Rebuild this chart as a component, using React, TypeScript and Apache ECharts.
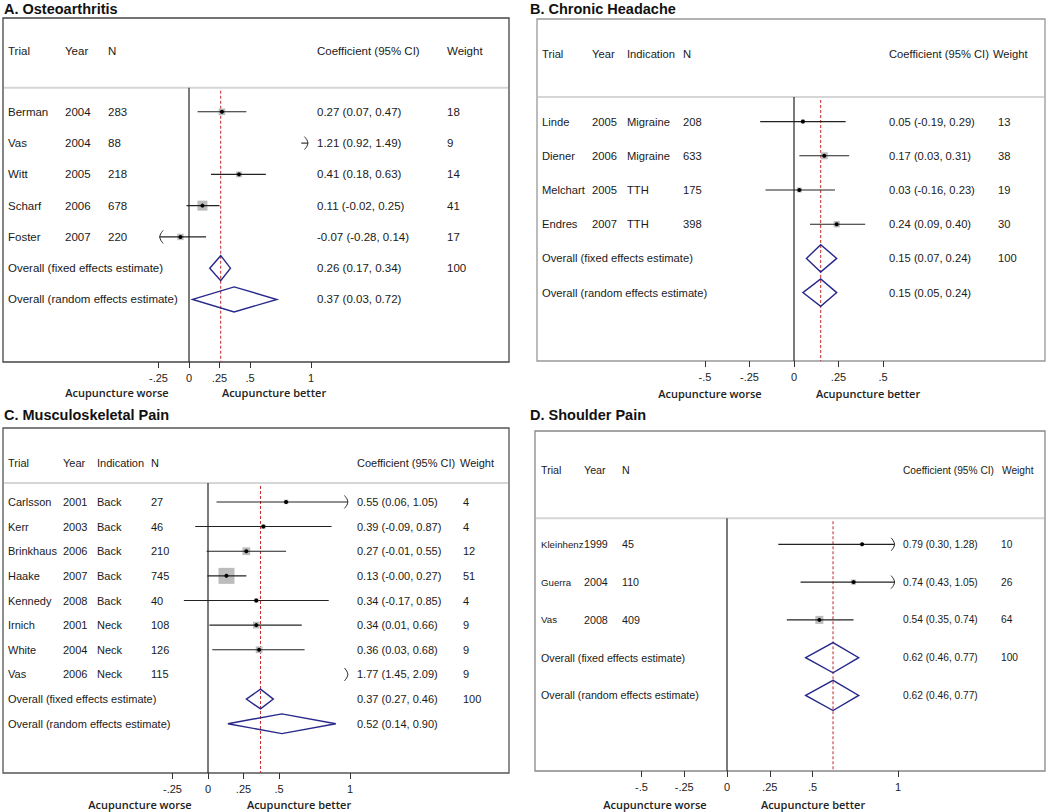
import React, { useEffect, useRef } from "react";
import * as echarts from "echarts";

// ---------- A. Osteoarthritis ----------
const oaTitle = "A. Osteoarthritis";
const oaTrials = ["Berman", "Vas", "Witt", "Scharf", "Foster"];
const oaYears = ["2004", "2004", "2005", "2006", "2007"];
const oaN = ["283", "88", "218", "678", "220"];
const oaEst = [0.27, 1.21, 0.41, 0.11, -0.07];
const oaLo = [0.07, 0.92, 0.18, -0.02, -0.28];
const oaHi = [0.47, 1.49, 0.63, 0.25, 0.14];
const oaWeight = [18, 9, 14, 41, 17];
const oaFixed = [0.26, 0.17, 0.34];
const oaRandom = [0.37, 0.03, 0.72];
const oaTicks = [-0.25, 0, 0.25, 0.5, 1];

// ---------- B. Chronic Headache ----------
const chTitle = "B. Chronic Headache";
const chTrials = ["Linde", "Diener", "Melchart", "Endres"];
const chYears = ["2005", "2006", "2005", "2007"];
const chIndications = ["Migraine", "Migraine", "TTH", "TTH"];
const chN = ["208", "633", "175", "398"];
const chEst = [0.05, 0.17, 0.03, 0.24];
const chLo = [-0.19, 0.03, -0.16, 0.09];
const chHi = [0.29, 0.31, 0.23, 0.4];
const chWeight = [13, 38, 19, 30];
const chFixed = [0.15, 0.07, 0.24];
const chRandom = [0.15, 0.05, 0.24];
const chTicks = [-0.5, -0.25, 0, 0.25, 0.5];

// ---------- C. Musculoskeletal Pain ----------
const mpTitle = "C. Musculoskeletal Pain";
const mpTrials = ["Carlsson", "Kerr", "Brinkhaus", "Haake", "Kennedy", "Irnich", "White", "Vas"];
const mpYears = ["2001", "2003", "2006", "2007", "2008", "2001", "2004", "2006"];
const mpIndications = ["Back", "Back", "Back", "Back", "Back", "Neck", "Neck", "Neck"];
const mpN = ["27", "46", "210", "745", "40", "108", "126", "115"];
const mpEst = [0.55, 0.39, 0.27, 0.13, 0.34, 0.34, 0.36, 1.77];
const mpLo = [0.06, -0.09, -0.01, -0.004, -0.17, 0.01, 0.03, 1.45];
const mpHi = [1.05, 0.87, 0.55, 0.27, 0.85, 0.66, 0.68, 2.09];
const mpWeight = [4, 4, 12, 51, 4, 9, 9, 9];
const mpFixed = [0.37, 0.27, 0.46];
const mpRandom = [0.52, 0.14, 0.9];
const mpTicks = [-0.25, 0, 0.25, 0.5, 1];

// ---------- D. Shoulder Pain ----------
const spTitle = "D. Shoulder Pain";
const spTrials = ["Kleinhenz", "Guerra", "Vas"];
const spYears = ["1999", "2004", "2008"];
const spN = ["45", "110", "409"];
const spEst = [0.79, 0.74, 0.54];
const spLo = [0.3, 0.43, 0.35];
const spHi = [1.28, 1.05, 0.74];
const spWeight = [10, 26, 64];
const spFixed = [0.62, 0.46, 0.77];
const spRandom = [0.62, 0.46, 0.77];
const spTicks = [-0.5, -0.25, 0, 0.25, 0.5, 1];

const FONT = "'Liberation Sans', Arial, Helvetica, sans-serif";
const NOTE_FONT = "'Open Sans', 'Liberation Sans', Arial, sans-serif";

type Layout = {
  left: number; top: number; width: number; height: number;
  xMin: number; xMax: number; yMin: number; yMax: number;
  headerRow: number; sepRow: number;
  cTrial: number; cYear: number; cInd: number; cN: number; cCoef: number; cWeight: number; cWeightH: number;
  font: number; trialFont: number; coefFont: number; clipLo: number; clipHi: number; sqK: number; border: string;
  titleX: number; titleY: number; worseX: number; betterX: number; noteY: number;
};

const panels = [
  {
    title: oaTitle, trials: oaTrials, years: oaYears, inds: null as string[] | null, ns: oaN,
    est: oaEst, lo: oaLo, hi: oaHi, weight: oaWeight, fixed: oaFixed, random: oaRandom, ticks: oaTicks,
    L: {
      left: 3, top: 18, width: 506, height: 344, xMin: -1.5246, xMax: 2.623, yMin: -3, yMax: 8,
      headerRow: -1.95, sepRow: -0.77, cTrial: 8, cYear: 65, cInd: 0, cN: 108, cCoef: 317, cWeight: 447, cWeightH: 447,
      font: 11.5, trialFont: 11.5, coefFont: 11.5, clipLo: -0.24, clipHi: 0.975, sqK: 1.56, border: "#444",
      titleX: 4, titleY: 9, worseX: 117, betterX: 274, noteY: 392,
    } as Layout,
  },
  {
    title: chTitle, trials: chTrials, years: chYears, inds: chIndications, ns: chN,
    est: chEst, lo: chLo, hi: chHi, weight: chWeight, fixed: chFixed, random: chRandom, ticks: chTicks,
    L: {
      left: 537, top: 19, width: 508, height: 342, xMin: -1.4438, xMax: 1.4101, yMin: -3, yMax: 7,
      headerRow: -1.98, sepRow: -0.72, cTrial: 542, cYear: 592, cInd: 627, cN: 683, cCoef: 889, cWeight: 998, cWeightH: 993,
      font: 11.2, trialFont: 11.2, coefFont: 11.2, clipLo: -1.2, clipHi: 1.3, sqK: 1.14, border: "#999",
      titleX: 530, titleY: 9, worseX: 710, betterX: 868, noteY: 393,
    } as Layout,
  },
  {
    title: mpTitle, trials: mpTrials, years: mpYears, inds: mpIndications, ns: mpN,
    est: mpEst, lo: mpLo, hi: mpHi, weight: mpWeight, fixed: mpFixed, random: mpRandom, ticks: mpTicks,
    L: {
      left: 3, top: 428, width: 506, height: 345, xMin: -1.4437, xMax: 2.1197, yMin: -3, yMax: 11,
      headerRow: -1.58, sepRow: -0.77, cTrial: 8, cYear: 63, cInd: 97, cN: 151, cCoef: 357, cWeight: 463, cWeightH: 460,
      font: 11, trialFont: 11, coefFont: 11, clipLo: -0.3, clipHi: 0.985, sqK: 2.24, border: "#555",
      titleX: 4, titleY: 415, worseX: 140, betterX: 299, noteY: 804,
    } as Layout,
  },
  {
    title: spTitle, trials: spTrials, years: spYears, inds: null as string[] | null, ns: spN,
    est: spEst, lo: spLo, hi: spHi, weight: spWeight, fixed: spFixed, random: spRandom, ticks: spTicks,
    L: {
      left: 535, top: 431, width: 510, height: 340, xMin: -1.1228, xMax: 1.8596, yMin: -3, yMax: 6,
      headerRow: -1.96, sepRow: -0.69, cTrial: 541, cYear: 584, cInd: 0, cN: 622, cCoef: 903, cWeight: 1001, cWeightH: 1002,
      font: 10.7, trialFont: 9.7, coefFont: 10.2, clipLo: -1, clipHi: 0.98, sqK: 1.0, border: "#888",
      titleX: 530, titleY: 415, worseX: 655, betterX: 813, noteY: 804,
    } as Layout,
  },
];

const fmtTick = (v: number) => (v === 0 ? "0" : String(v).replace(/^(-?)0\./, "$1."));
const fmtCI = (e: number, l: number, h: number) => `${e.toFixed(2)} (${l.toFixed(2)}, ${h.toFixed(2)})`;

function txt(x: number, y: number, text: string, size: number, extra: any = {}) {
  return {
    type: "text", x, y,
    style: { text, fill: "#1a1a1a", fontSize: size, fontFamily: FONT, verticalAlign: "middle", align: "left", ...extra },
  };
}

function arrow(x: number, y: number, dir: number) {
  return {
    type: "polyline",
    shape: {
      points: [[x - dir * 3.5, y - 6.5], [x - dir * 1.2, y - 3.5], [x, y], [x - dir * 1.2, y + 3.5], [x - dir * 3.5, y + 6.5]],
      smooth: 0.3,
    },
    style: { stroke: "#222", fill: "none", lineWidth: 1 },
  };
}

function buildOption() {
  const grid: any[] = [], xAxis: any[] = [], yAxis: any[] = [], series: any[] = [], graphic: any[] = [];
  panels.forEach((p, k) => {
    const L = p.L;
    grid.push({
      left: L.left, top: L.top, width: L.width, height: L.height, show: true,
      borderColor: L.border, borderWidth: 1.3, backgroundColor: "transparent",
      containLabel: false, outerBoundsMode: "none",
    });
    xAxis.push({
      gridIndex: k, type: "value", min: L.xMin, max: L.xMax, position: "bottom",
      axisLine: { show: false, onZero: false }, splitLine: { show: false },
      axisTick: { show: true, customValues: p.ticks, length: 6, inside: false, lineStyle: { color: "#333", width: 1 } },
      axisLabel: { customValues: p.ticks, formatter: fmtTick, margin: 10, fontSize: 11, color: "#222", fontFamily: FONT },
    });
    yAxis.push({ gridIndex: k, type: "value", min: L.yMin, max: L.yMax, inverse: true, show: false });

    // frame: header, separator, zero line, reference line
    series.push({
      type: "custom", xAxisIndex: k, yAxisIndex: k, clip: false, z: 1, silent: true,
      data: [[0, L.sepRow]],
      renderItem: (_params: any, api: any) => {
        const yH = api.coord([0, L.headerRow])[1];
        const ySep = api.coord([0, L.sepRow])[1];
        const yBot = api.coord([0, L.yMax])[1];
        const x0 = api.coord([0, 0])[0];
        const xF = api.coord([p.fixed[0], 0])[0];
        const xL = api.coord([L.xMin, 0])[0];
        const xR = api.coord([L.xMax, 0])[0];
        const ch: any[] = [
          { type: "line", shape: { x1: xL + 1, y1: ySep, x2: xR - 1, y2: ySep }, style: { stroke: "#d6d6d6", lineWidth: 2 } },
          { type: "line", shape: { x1: x0, y1: ySep, x2: x0, y2: yBot }, style: { stroke: "#222", lineWidth: 1.2 } },
          { type: "line", shape: { x1: xF, y1: ySep + 3, x2: xF, y2: yBot }, style: { stroke: "#c0282d", lineWidth: 1, lineDash: [3, 2] } },
          txt(L.cTrial, yH, "Trial", L.font),
          txt(L.cYear, yH, "Year", L.font),
          txt(L.cN, yH, "N", L.font),
          txt(L.cCoef, yH, "Coefficient (95% CI)", L.coefFont),
          txt(L.cWeightH, yH, "Weight", L.coefFont),
        ];
        if (p.inds) ch.push(txt(L.cInd, yH, "Indication", L.font));
        return { type: "group", children: ch };
      },
    });

    // trials
    series.push({
      type: "custom", xAxisIndex: k, yAxisIndex: k, clip: false, z: 3, silent: true,
      data: p.trials.map((_, i) => [p.est[i], i]),
      renderItem: (params: any, api: any) => {
        const i = params.dataIndex;
        const row = api.value(1);
        const y = api.coord([0, row])[1];
        const cx = (v: number) => api.coord([v, row])[0];
        const est = p.est[i], lo = p.lo[i], hi = p.hi[i];
        const ch: any[] = [];
        const inRange = est >= L.clipLo && est <= L.clipHi;
        if (inRange) {
          const s = L.sqK * Math.sqrt(p.weight[i]);
          ch.push({ type: "rect", shape: { x: cx(est) - s / 2, y: y - s / 2, width: s, height: s }, style: { fill: "#bcbcbc" } });
        }
        const a = Math.max(lo, L.clipLo), b = Math.min(hi, L.clipHi);
        if (a < b) ch.push({ type: "line", shape: { x1: cx(a), y1: y, x2: cx(b), y2: y }, style: { stroke: "#222", lineWidth: 1.1 } });
        if (hi > L.clipHi) ch.push(arrow(cx(L.clipHi), y, 1));
        if (lo < L.clipLo) ch.push(arrow(cx(L.clipLo), y, -1));
        if (inRange) ch.push({ type: "circle", shape: { cx: cx(est), cy: y, r: 2 }, style: { fill: "#000" } });
        ch.push(txt(L.cTrial, y, p.trials[i], L.trialFont));
        ch.push(txt(L.cYear, y, p.years[i], L.font));
        if (p.inds) ch.push(txt(L.cInd, y, p.inds[i], L.font));
        ch.push(txt(L.cN, y, p.ns[i], L.font));
        ch.push(txt(L.cCoef, y, fmtCI(est, lo, hi), L.coefFont));
        ch.push(txt(L.cWeight, y, String(p.weight[i]), L.coefFont));
        return { type: "group", children: ch };
      },
    });

    // overall estimates
    const n = p.trials.length;
    const overall = [p.fixed, p.random];
    const overallLabels = ["Overall (fixed effects estimate)", "Overall (random effects estimate)"];
    const overallWeights = ["100", ""];
    series.push({
      type: "custom", xAxisIndex: k, yAxisIndex: k, clip: false, z: 4, silent: true,
      data: overall.map((o, j) => [o[0], n + j]),
      renderItem: (params: any, api: any) => {
        const j = params.dataIndex;
        const row = api.value(1);
        const y = api.coord([0, row])[1];
        const h = api.size([0, 0.4])[1];
        const cx = (v: number) => api.coord([v, row])[0];
        const [e, l, hh] = overall[j];
        const ch: any[] = [
          {
            type: "polygon",
            shape: { points: [[cx(l), y], [cx(e), y - h], [cx(hh), y], [cx(e), y + h]] },
            style: { stroke: "#27288a", fill: "none", lineWidth: 1.4 },
          },
          txt(L.cTrial, y, overallLabels[j], L.font),
          txt(L.cCoef, y, fmtCI(e, l, hh), L.coefFont),
        ];
        if (overallWeights[j]) ch.push(txt(L.cWeight, y, overallWeights[j], L.coefFont));
        return { type: "group", children: ch };
      },
    });

    graphic.push({
      type: "text", x: L.titleX, y: L.titleY,
      style: { text: p.title, fill: "#111", fontSize: 14.5, fontWeight: "bold", fontFamily: FONT, verticalAlign: "middle", align: "left" },
    });
    graphic.push({
      type: "text", x: L.worseX, y: L.noteY,
      style: { text: "Acupuncture worse", fill: "#222", fontSize: 11, fontWeight: 600, fontFamily: NOTE_FONT, verticalAlign: "middle", align: "center" },
    });
    graphic.push({
      type: "text", x: L.betterX, y: L.noteY,
      style: { text: "Acupuncture better", fill: "#222", fontSize: 11, fontWeight: 600, fontFamily: NOTE_FONT, verticalAlign: "middle", align: "center" },
    });
  });

  return { animation: false, backgroundColor: "#fff", grid, xAxis, yAxis, series, graphic };
}

export default function App() {
  const ref = useRef<HTMLDivElement>(null);
  useEffect(() => {
    if (!ref.current) return;
    const chart = echarts.init(ref.current, null, { renderer: "svg" });
    chart.setOption(buildOption() as any);
    return () => chart.dispose();
  }, []);
  return (
    <div
      ref={ref}
      style={{ position: "fixed", left: 0, top: 0, width: 1050, height: 812, background: "#fff" }}
    />
  );
}
